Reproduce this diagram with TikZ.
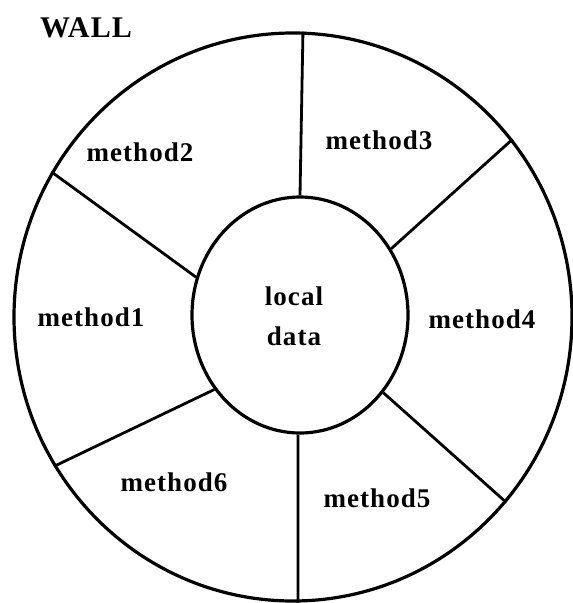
\documentclass[tikz,border=0pt]{standalone}
\usepackage{fontspec}
\setmainfont{Liberation Serif}
\newfontfamily\wallfont[LetterSpace=4]{Liberation Serif}
\usetikzlibrary{shapes.geometric}

\tikzset{
  ring/.style={draw, ellipse, line width=3.2pt, inner sep=0pt},
  spoke/.style={line width=2.8pt},
  methodlabel/.style={font=\wallfont\bfseries\fontsize{27}{40}\selectfont, align=center},
}

\begin{document}
\begin{tikzpicture}[x=1pt, y=-1pt]
  \useasboundingbox (0, 0) rectangle (573, 603);

  % Wall and local data
  \node[ring, minimum width=558pt, minimum height=568pt] (wall) at (293, 317) {};
  \node[ring, minimum width=216pt, minimum height=236pt] (local) at (300, 315) {};

  % Spokes
  \draw[spoke] (local.90)     -- (wall.88.6);
  \draw[spoke] (local.36.7)   -- (wall.39.9);
  \draw[spoke] (local.-43)    -- (wall.-41.7);
  \draw[spoke] (local.-91)    -- (wall.-89);
  \draw[spoke] (local.-139.5) -- (wall.-148);
  \draw[spoke] (local.160.6)  -- (wall.149.5);

  % Labels
  \node[methodlabel, font=\wallfont\bfseries\fontsize{30}{40}\selectfont] (walltitle) at (86, 28) {WALL};
  \node[methodlabel] (localtext) at (294, 316) {local\\data};
  \node[methodlabel] (m1) at (91, 317) {method1};
  \node[methodlabel] (m2) at (140, 152) {method2};
  \node[methodlabel] (m3) at (379, 140) {method3};
  \node[methodlabel] (m4) at (482, 319) {method4};
  \node[methodlabel] (m5) at (377, 498) {method5};
  \node[methodlabel] (m6) at (174, 482) {method6};
\end{tikzpicture}
\end{document}
